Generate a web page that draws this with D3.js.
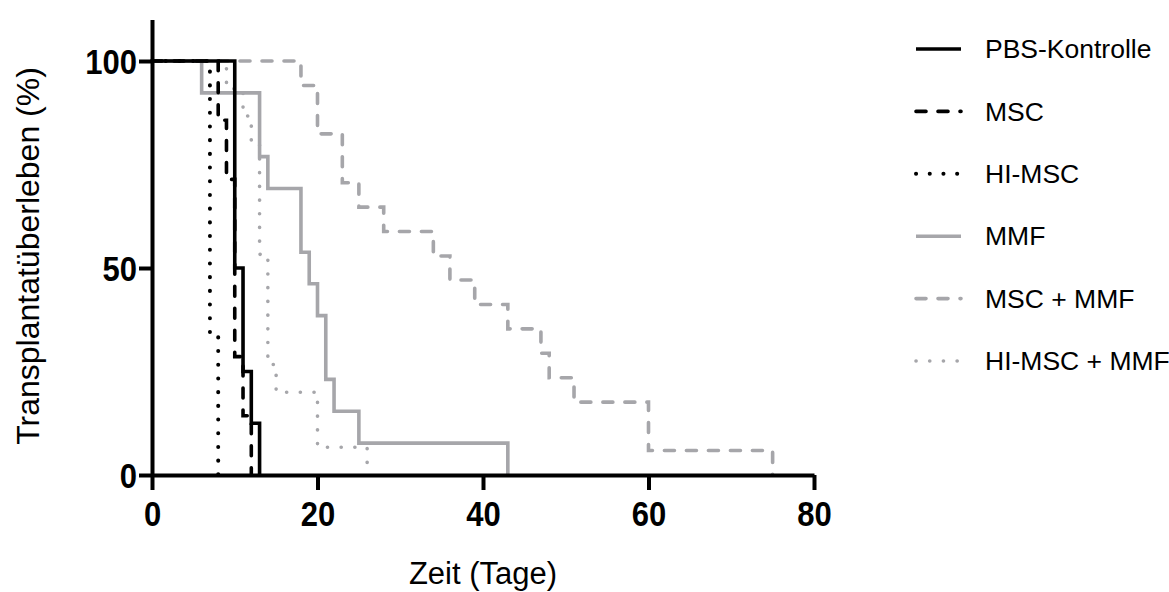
<!DOCTYPE html>
<html>
<head>
<meta charset="utf-8">
<script src="https://cdn.jsdelivr.net/npm/d3@7"></script>
<style>
  body { margin: 0; background: #fff; }
  svg { display: block; font-family: "Liberation Sans", Arial, sans-serif; }
</style>
</head>
<body>
<svg id="chart" width="1169" height="592"></svg>
<script>
// Kaplan-Meier steps (day, % survival)
const pbsDays = [0, 10, 11, 12, 13]
const pbsSurv = [100, 50, 25, 12.5, 0]
const mscDays = [0, 8, 9, 10, 11, 12]
const mscSurv = [100, 85.7, 71.4, 28.6, 14.3, 0]
const himscDays = [0, 7, 8]
const himscSurv = [100, 33.3, 0]
const mmfDays = [0, 6, 13, 14, 18, 19, 20, 21, 22, 25, 43]
const mmfSurv = [100, 92.3, 76.9, 69.2, 53.8, 46.2, 38.5, 23.1, 15.4, 7.7, 0]
const mscMmfDays = [0, 18, 20, 23, 25, 28, 34, 36, 39, 43, 47, 48, 51, 60, 75]
const mscMmfSurv = [100, 94.1, 82.4, 70.6, 64.7, 58.8, 52.9, 47.1, 41.2, 35.3, 29.4, 23.5, 17.6, 5.9, 0]
const himscMmfDays = [0, 9, 11, 12, 13, 14, 15, 20, 26]
const himscMmfSurv = [100, 93.3, 86.7, 80, 53.3, 26.7, 20, 6.7, 0]

const groupNames = ['PBS-Kontrolle', 'MSC', 'HI-MSC', 'MMF', 'MSC + MMF', 'HI-MSC + MMF']
const xTicks = [0, 20, 40, 60, 80]
const yTicks = [0, 50, 100]

const black = '#000'
const grey = '#a6a6aa'
const dash = '10,12'
const dot = '0.1,13.6'

const groups = [
    { name: groupNames[0], days: pbsDays, surv: pbsSurv, color: black, dash: null, width: 3.6 },
    { name: groupNames[1], days: mscDays, surv: mscSurv, color: black, dash: dash, width: 3.6 },
    { name: groupNames[2], days: himscDays, surv: himscSurv, color: black, dash: dot, width: 4 },
    { name: groupNames[3], days: mmfDays, surv: mmfSurv, color: grey, dash: null, width: 3.6 },
    { name: groupNames[4], days: mscMmfDays, surv: mscMmfSurv, color: grey, dash: dash, width: 3.6 },
    { name: groupNames[5], days: himscMmfDays, surv: himscMmfSurv, color: grey, dash: dot, width: 3.6 },
]

const svg = d3.select('#chart')

const x = d3.scaleLinear().domain([0, 80]).range([152, 814])
const y = d3.scaleLinear().domain([0, 110]).range([475, 19.6])

const line = d3.line()
    .x(d => x(d[0]))
    .y(d => y(d[1]))
    .curve(d3.curveStepAfter)

// grey groups first, black on top
const drawOrder = [4, 5, 3, 2, 1, 0]
svg.append('g').attr('class', 'curves')
    .selectAll('path')
    .data(drawOrder.map(i => groups[i]))
    .join('path')
    .attr('d', g => line(g.days.map((d, i) => [d, g.surv[i]])))
    .attr('fill', 'none')
    .attr('stroke', g => g.color)
    .attr('stroke-width', g => g.width)
    .attr('stroke-dasharray', g => g.dash)
    .attr('stroke-linecap', g => g.dash ? 'round' : 'butt')
    .attr('stroke-linejoin', 'miter')

// axes
const xAxis = svg.append('g')
    .attr('transform', `translate(0,${y(0)})`)
    .call(d3.axisBottom(x).tickValues(xTicks).tickSize(15).tickSizeOuter(0))
const yAxis = svg.append('g')
    .attr('transform', `translate(${x(0)},0)`)
    .call(d3.axisLeft(y).tickValues(yTicks).tickSize(13).tickSizeOuter(0))

for (const ax of [xAxis, yAxis]) {
    ax.select('.domain').attr('stroke', black).attr('stroke-width', 4)
    ax.selectAll('.tick line').attr('stroke', black).attr('stroke-width', 4)
    ax.selectAll('.tick text')
        .attr('fill', black)
        .attr('x', 0).attr('y', 0).attr('dy', 0)
        .style('font-size', '31px')
        .style('font-weight', 'bold')
        .style('font-family', '"Liberation Sans", Arial, sans-serif')
}
// the original digits are a little taller than plain Arial bold
xAxis.selectAll('.tick text').attr('transform', 'translate(0,51) scale(1,1.13)')
yAxis.selectAll('.tick text').attr('transform', 'translate(-15,12.5) scale(1,1.13)')

// axis titles
svg.append('text')
    .attr('x', 483).attr('y', 584)
    .attr('text-anchor', 'middle')
    .style('font-size', '31px')
    .text('Zeit (Tage)')

svg.append('text')
    .attr('transform', 'translate(39,256) rotate(-90)')
    .attr('text-anchor', 'middle')
    .style('font-size', '32px')
    .text('Transplantatüberleben (%)')

// legend
const legend = svg.append('g').attr('class', 'legend')
const rowY = d3.scalePoint().domain(groupNames).range([49, 361])
const item = legend.selectAll('g')
    .data(groups)
    .join('g')
    .attr('transform', g => `translate(0,${rowY(g.name)})`)

item.append('line')
    .attr('x1', 916).attr('x2', 961)
    .attr('stroke', g => g.color)
    .attr('stroke-width', g => g.width)
    .attr('stroke-dasharray', g => g.dash)
    .attr('stroke-linecap', g => g.dash ? 'round' : 'butt')

item.append('text')
    .attr('x', 985).attr('y', 0)
    .attr('dy', '0.35em')
    .style('font-size', '26.5px')
    .text(g => g.name)
</script>
</body>
</html>
